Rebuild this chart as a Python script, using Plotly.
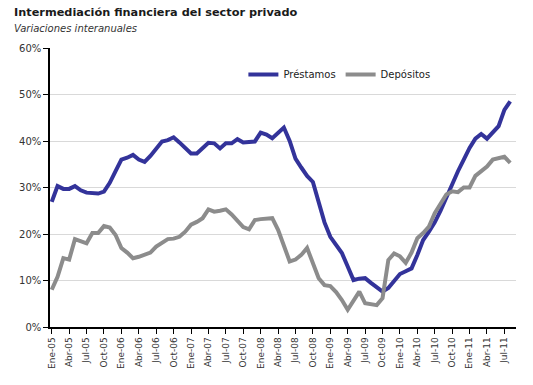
import plotly.graph_objects as go

months_es = ["Ene", "Feb", "Mar", "Abr", "May", "Jun", "Jul", "Ago", "Sep", "Oct", "Nov", "Dic"]
periods = [f"{months_es[i % 12]}-{5 + i // 12:02d}" for i in range(80)]  # Ene-05 .. Ago-11

prestamos = [26.9, 30.3, 29.7, 29.7, 30.3, 29.4, 28.9, 28.7, 28.7, 29.1,
             31.0, 33.5, 36.0, 36.4, 37.0, 36.0, 35.5, 36.8, 38.5, 39.9,
             40.2, 40.8, 39.7, 38.6, 37.3, 37.3, 38.5, 39.6, 39.5, 38.4,
             39.5, 39.5, 40.4, 39.7, 39.8, 39.9, 41.8, 41.4, 40.6, 41.8,
             42.9, 40.0, 36.2, 34.3, 32.5, 31.2, 26.5, 22.5, 19.4, 17.5,
             15.9, 13.0, 10.1, 10.4, 10.5, 9.5, 8.5, 7.6, 8.4, 10.0,
             11.4, 12.0, 12.6, 15.5, 18.7, 20.5, 22.5, 25.0, 28.0, 30.5,
             33.5, 36.0, 38.5, 40.5, 41.5, 40.5, 41.8, 43.2, 46.7, 48.5]

depositos = [8.0, 10.8, 14.8, 14.5, 18.9, 18.4, 18.0, 20.2, 20.2, 21.7,
             21.4, 19.8, 17.0, 16.0, 14.8, 15.1, 15.5, 16.0, 17.3, 18.2,
             18.9, 19.0, 19.4, 20.5, 22.0, 22.6, 23.4, 25.3, 24.8, 25.0,
             25.3, 24.2, 22.8, 21.5, 21.0, 23.0, 23.2, 23.4, 23.4, 20.9,
             17.5, 14.1, 14.5, 15.5, 17.0, 13.5, 10.5, 9.0, 8.8, 7.5,
             5.8, 3.7, 5.8, 7.6, 5.1, 4.8, 4.7, 6.2, 14.4, 15.8,
             15.2, 13.8, 16.0, 19.1, 20.2, 21.6, 24.5, 26.5, 28.5, 29.2,
             29.0, 30.0, 30.0, 32.5, 33.5, 34.5, 36.0, 36.3, 36.6, 35.3]

tick_idx = list(range(0, 80, 3))
tick_labels = [periods[i] for i in tick_idx]
y_ticks = [0, 10, 20, 30, 40, 50, 60]
y_labels = [f"{v}%" for v in y_ticks]

x = list(range(len(periods)))

fig = go.Figure()
fig.add_trace(go.Scatter(x=x, y=prestamos, mode="lines", name="Préstamos",
                         line=dict(color="#33339A", width=4)))
fig.add_trace(go.Scatter(x=x, y=depositos, mode="lines", name="Depósitos",
                         line=dict(color="#8C8C8C", width=4)))

fig.update_layout(
    width=533, height=385,
    margin=dict(l=50, r=17, t=48, b=58),
    paper_bgcolor="white", plot_bgcolor="white",
    font=dict(family="DejaVu Sans", color="#333333"),
    showlegend=True,
    legend=dict(orientation="h", x=0.415, y=0.905, xanchor="left", yanchor="middle",
                font=dict(size=10, color="#222222"), bgcolor="rgba(0,0,0,0)",
                itemwidth=30, tracegroupgap=0),
)
fig.add_annotation(text="<b>Intermediación financiera del sector privado</b>", xref="paper", yref="paper",
                   x=-0.082, y=1.0, yshift=36, xanchor="left", yanchor="middle", showarrow=False,
                   font=dict(size=11.3, color="#1a1a1a", family="DejaVu Sans"))
fig.add_annotation(text="<i>Variaciones interanuales</i>", xref="paper", yref="paper",
                   x=-0.082, y=1.0, yshift=20, xanchor="left", yanchor="middle",
                   showarrow=False, font=dict(size=10, color="#333333"))

fig.update_xaxes(range=[-0.3, 80], tickvals=tick_idx, ticktext=tick_labels, tickangle=-90,
                 showline=True, linecolor="black", linewidth=1.5, ticks="outside",
                 ticklen=5, tickcolor="black", showgrid=False, zeroline=False,
                 tickfont=dict(size=9, color="#333333"))
fig.update_yaxes(range=[0, 60], tickvals=y_ticks, ticktext=y_labels,
                 showline=True, linecolor="black", linewidth=1.5, ticks="outside",
                 ticklen=5, tickcolor="black", showgrid=True, gridcolor="#D9D9D9",
                 gridwidth=1, zeroline=False, tickfont=dict(size=10, color="#333333"))

fig.write_html("out.html", config={"displayModeBar": False},
               post_script="document.body.style.margin='0';")
